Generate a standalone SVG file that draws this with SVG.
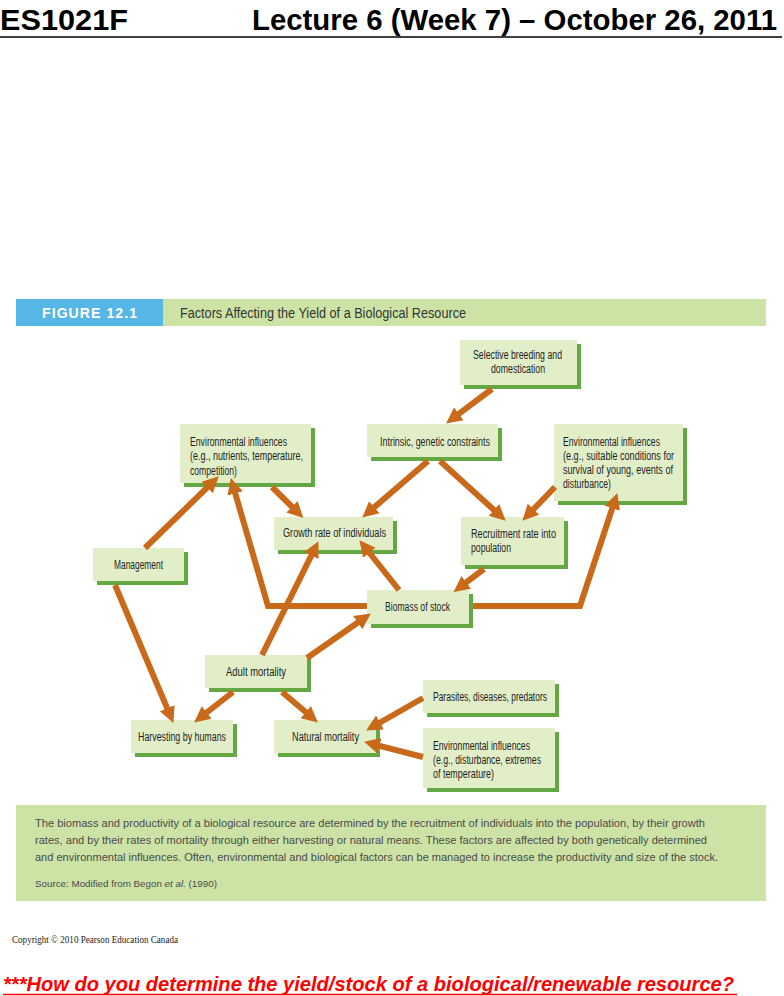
<svg xmlns="http://www.w3.org/2000/svg" width="784" height="996" viewBox="0 0 784 996">
<style>
.hdr{font-family:"Liberation Sans Narrow","Liberation Sans",Arial,sans-serif;font-weight:bold;font-size:29px;fill:#000}
.box{fill:#e2eec8}
.shd{fill:#64a844}
.nt{font-family:"Liberation Sans Narrow","Liberation Sans",Arial,sans-serif;font-size:12px;fill:#1e1e1e}
.cap{font-family:"Liberation Sans Narrow","Liberation Sans",Arial,sans-serif;font-size:11.5px;fill:#4a4a4a}
.src{font-family:"Liberation Sans Narrow","Liberation Sans",Arial,sans-serif;font-size:9.8px;fill:#4a4a4a}
.arr{fill:none;stroke:#c96a1b;stroke-width:6;stroke-linejoin:miter;marker-end:url(#ah)}
</style>
<defs>
<marker id="ah" markerUnits="userSpaceOnUse" markerWidth="22" markerHeight="22" refX="8" refY="9" orient="auto">
<path d="M0,1 L16,9 L0,17 z" fill="#c96a1b"/>
</marker>
</defs>
<rect width="784" height="996" fill="#ffffff"/>
<g id="header">
<text class="hdr" x="0" y="30" textLength="128" lengthAdjust="spacingAndGlyphs">ES1021F</text>
<text class="hdr" x="252" y="30" textLength="525" lengthAdjust="spacingAndGlyphs">Lecture 6 (Week 7) – October 26, 2011</text>
<line x1="0" y1="37" x2="782" y2="37" stroke="#000" stroke-width="1.5"/>
</g>
<g id="title-bar">
<rect x="16" y="299" width="147" height="27" fill="#56b7e6"/>
<rect x="163" y="299" width="603" height="27" fill="#cde3a6"/>
<text x="42" y="318" font-family="'Liberation Sans Narrow','Liberation Sans',Arial,sans-serif" font-weight="bold" font-size="14" fill="#ffffff" textLength="95" lengthAdjust="spacing">FIGURE 12.1</text>
<text x="180" y="318" font-family="'Liberation Sans Narrow','Liberation Sans',Arial,sans-serif" font-size="14" fill="#333333" textLength="286" lengthAdjust="spacingAndGlyphs">Factors Affecting the Yield of a Biological Resource</text>
</g>
<g id="node-selective">
<rect class="shd" x="464" y="344" width="117" height="45"/>
<rect class="box" x="460" y="340" width="117" height="45"/>
<text class="nt" x="473" y="359" textLength="89" lengthAdjust="spacingAndGlyphs">Selective breeding and</text>
<text class="nt" x="491" y="373" textLength="54" lengthAdjust="spacingAndGlyphs">domestication</text>
</g>
<g id="node-env1">
<rect class="shd" x="184" y="428" width="131" height="59"/>
<rect class="box" x="180" y="424" width="131" height="59"/>
<text class="nt" x="190" y="446" textLength="97" lengthAdjust="spacingAndGlyphs">Environmental influences</text>
<text class="nt" x="190" y="460" textLength="113" lengthAdjust="spacingAndGlyphs">(e.g., nutrients, temperature,</text>
<text class="nt" x="190" y="475" textLength="47" lengthAdjust="spacingAndGlyphs">competition)</text>
</g>
<g id="node-intrinsic">
<rect class="shd" x="371" y="428" width="131" height="33"/>
<rect class="box" x="367" y="424" width="131" height="33"/>
<text class="nt" x="380" y="446" textLength="110" lengthAdjust="spacingAndGlyphs">Intrinsic, genetic constraints</text>
</g>
<g id="node-env2">
<rect class="shd" x="558" y="428" width="129" height="77"/>
<rect class="box" x="554" y="424" width="129" height="77"/>
<text class="nt" x="563" y="446" textLength="97" lengthAdjust="spacingAndGlyphs">Environmental influences</text>
<text class="nt" x="563" y="460" textLength="111" lengthAdjust="spacingAndGlyphs">(e.g., suitable conditions for</text>
<text class="nt" x="563" y="474" textLength="110" lengthAdjust="spacingAndGlyphs">survival of young, events of</text>
<text class="nt" x="563" y="488" textLength="48" lengthAdjust="spacingAndGlyphs">disturbance)</text>
</g>
<g id="node-growth">
<rect class="shd" x="278" y="521" width="119" height="33"/>
<rect class="box" x="274" y="517" width="119" height="33"/>
<text class="nt" x="283" y="537" textLength="103" lengthAdjust="spacingAndGlyphs">Growth rate of individuals</text>
</g>
<g id="node-recruitment">
<rect class="shd" x="465" y="521" width="103" height="48"/>
<rect class="box" x="461" y="517" width="103" height="48"/>
<text class="nt" x="471" y="538" textLength="85" lengthAdjust="spacingAndGlyphs">Recruitment rate into</text>
<text class="nt" x="471" y="552" textLength="40" lengthAdjust="spacingAndGlyphs">population</text>
</g>
<g id="node-management">
<rect class="shd" x="97" y="552" width="91" height="33"/>
<rect class="box" x="93" y="548" width="91" height="33"/>
<text class="nt" x="114" y="569" textLength="49" lengthAdjust="spacingAndGlyphs">Management</text>
</g>
<g id="node-biomass">
<rect class="shd" x="371" y="594" width="102" height="34"/>
<rect class="box" x="367" y="590" width="102" height="34"/>
<text class="nt" x="385" y="611" textLength="65" lengthAdjust="spacingAndGlyphs">Biomass of stock</text>
</g>
<g id="node-adult">
<rect class="shd" x="209" y="659" width="102" height="33"/>
<rect class="box" x="205" y="655" width="102" height="33"/>
<text class="nt" x="226" y="676" textLength="60" lengthAdjust="spacingAndGlyphs">Adult mortality</text>
</g>
<g id="node-harvesting">
<rect class="shd" x="135" y="724" width="102" height="33"/>
<rect class="box" x="131" y="720" width="102" height="33"/>
<text class="nt" x="138" y="741" textLength="88" lengthAdjust="spacingAndGlyphs">Harvesting by humans</text>
</g>
<g id="node-natural">
<rect class="shd" x="278" y="724" width="102" height="33"/>
<rect class="box" x="274" y="720" width="102" height="33"/>
<text class="nt" x="292" y="741" textLength="67" lengthAdjust="spacingAndGlyphs">Natural mortality</text>
</g>
<g id="node-parasites">
<rect class="shd" x="427" y="684" width="132" height="33"/>
<rect class="box" x="423" y="680" width="132" height="33"/>
<text class="nt" x="433" y="701" textLength="114" lengthAdjust="spacingAndGlyphs">Parasites, diseases, predators</text>
</g>
<g id="node-env3">
<rect class="shd" x="427" y="732" width="132" height="60"/>
<rect class="box" x="423" y="728" width="132" height="60"/>
<text class="nt" x="433" y="750" textLength="97" lengthAdjust="spacingAndGlyphs">Environmental influences</text>
<text class="nt" x="433" y="764" textLength="108" lengthAdjust="spacingAndGlyphs">(e.g., disturbance, extremes</text>
<text class="nt" x="433" y="778" textLength="61" lengthAdjust="spacingAndGlyphs">of temperature)</text>
</g>
<g id="connectors">
<path class="arr" d="M492,389 L452.4,418.6"/>
<path class="arr" d="M428,461 L368.3,512.4"/>
<path class="arr" d="M440,461 L499.8,515.3"/>
<path class="arr" d="M555,487 L527.9,515"/>
<path class="arr" d="M272,487 L297.7,512.4"/>
<path class="arr" d="M145,548 L213,481.9"/>
<path class="arr" d="M115,585 L170.3,715.6"/>
<path class="arr" d="M367,606 L268,606 L233,485.7"/>
<path class="arr" d="M473,606 L580,606 L614.8,500.6"/>
<path class="arr" d="M399,590 L364.4,546.5"/>
<path class="arr" d="M484,569 L459.9,587.1"/>
<path class="arr" d="M262,655 L314.9,548.3"/>
<path class="arr" d="M307,658 L364.3,618"/>
<path class="arr" d="M233,692 L200.4,717.5"/>
<path class="arr" d="M282,692 L311.8,717.3"/>
<path class="arr" d="M423,698 L373.1,726.5"/>
<path class="arr" d="M423,757 L371.8,743.8"/>
</g>
<g id="caption">
<rect x="16" y="805" width="750" height="96" fill="#cde3a6"/>
<text class="cap" x="35" y="827" textLength="670" lengthAdjust="spacingAndGlyphs">The biomass and productivity of a biological resource are determined by the recruitment of individuals into the population, by their growth</text>
<text class="cap" x="35" y="844" textLength="672" lengthAdjust="spacingAndGlyphs">rates, and by their rates of mortality through either harvesting or natural means. These factors are affected by both genetically determined</text>
<text class="cap" x="35" y="861" textLength="683" lengthAdjust="spacingAndGlyphs">and environmental influences. Often, environmental and biological factors can be managed to increase the productivity and size of the stock.</text>
<text class="src" x="35" y="887">Source: Modified from Begon <tspan font-style="italic">et al.</tspan> (1990)</text>
</g>
<g id="footer">
<text x="12" y="943" font-family="'Liberation Serif','Times New Roman',serif" font-size="10" fill="#222" textLength="166" lengthAdjust="spacingAndGlyphs">Copyright © 2010 Pearson Education Canada</text>
<text x="3" y="991" font-family="'Liberation Sans',Arial,sans-serif" font-weight="bold" font-style="italic" font-size="21" fill="#ff0000" textLength="731" lengthAdjust="spacingAndGlyphs">***How do you determine the yield/stock of a biological/renewable resource?</text>
<line x1="3" y1="994.5" x2="737" y2="994.5" stroke="#ff0000" stroke-width="1.5"/>
</g>
</svg>
